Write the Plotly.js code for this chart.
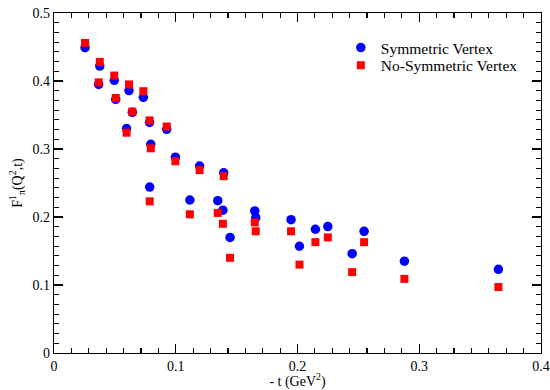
<!DOCTYPE html>
<html>
<head>
<meta charset="utf-8">
<script src="https://cdn.plot.ly/plotly-3.0.1.min.js"></script>
<style>html,body{margin:0;padding:0;background:#fff}#chart{width:550px;height:390px}</style>
</head>
<body>
<div id="chart"></div>
<script>
// -t (GeV^2)
var tValues = [0.0255, 0.0367, 0.0376, 0.0495, 0.0507, 0.0596, 0.0616, 0.0643, 0.0734, 0.0785,
               0.0786, 0.0795, 0.0926, 0.0997, 0.1116, 0.1196, 0.1345, 0.1387, 0.1394, 0.1446,
               0.1649, 0.1657, 0.1947, 0.2016, 0.2147, 0.2249, 0.2449, 0.2547, 0.2878, 0.365];
var symmetricVertex = [0.449, 0.395, 0.422, 0.401, 0.373, 0.330, 0.386, 0.354, 0.376, 0.339,
                       0.244, 0.307, 0.329, 0.288, 0.225, 0.275, 0.224, 0.210, 0.265, 0.170,
                       0.209, 0.199, 0.196, 0.157, 0.182, 0.186, 0.146, 0.179, 0.135, 0.123];
var noSymmetricVertex = [0.456, 0.398, 0.428, 0.408, 0.375, 0.324, 0.395, 0.355, 0.385, 0.342,
                         0.223, 0.301, 0.333, 0.282, 0.204, 0.269, 0.206, 0.190, 0.260, 0.140,
                         0.192, 0.179, 0.179, 0.130, 0.163, 0.170, 0.119, 0.163, 0.109, 0.097];
var seriesNames = ['Symmetric Vertex', 'No-Symmetric Vertex'];
var xTickVals = [0, 0.1, 0.2, 0.3, 0.4];
var xTickText = ['0', '0.1', '0.2', '0.3', '0.4'];
var yTickVals = [0, 0.1, 0.2, 0.3, 0.4, 0.5];
var yTickText = ['0', '0.1', '0.2', '0.3', '0.4', '0.5'];

var serif = 'Liberation Serif, Times New Roman, serif';

var traces = [
  {x: tValues, y: symmetricVertex, name: seriesNames[0], type: 'scatter', mode: 'markers',
   legend: 'legend',
   marker: {symbol: 'circle', size: 9.5, color: '#0000ff'}},
  {x: tValues, y: noSymmetricVertex, name: seriesNames[1], type: 'scatter', mode: 'markers',
   legend: 'legend2',
   marker: {symbol: 'square', size: 8, color: '#ff0000'}}
];

function axisBase() {
  return {
    showgrid: false, zeroline: false, showline: true, linecolor: '#000', linewidth: 1.3,
    mirror: 'allticks', ticks: 'inside', ticklen: 9, tickwidth: 1.2, tickcolor: '#000',
    tickfont: {family: serif, size: 14, color: '#000'}, tickmode: 'array'
  };
}
var xa = axisBase();
xa.range = [0, 0.4];
xa.tickvals = xTickVals; xa.ticktext = xTickText;
xa.minor = {dtick: 0.1/7, tick0: 0, ticks: 'inside', ticklen: 5, tickwidth: 1.2, tickcolor: '#000', showgrid: false};
xa.title = {text: '- t (GeV<sup>2</sup>)', font: {family: serif, size: 14, color: '#000'}, standoff: 4};

var ya = axisBase();
ya.range = [0, 0.5];
ya.tickvals = yTickVals; ya.ticktext = yTickText;
ya.minor = {dtick: 0.1/7, tick0: 0, ticks: 'inside', ticklen: 5, tickwidth: 1.2, tickcolor: '#000', showgrid: false};
ya.title = {text: 'F<sup>1</sup><sub>π</sub>(Q<sup>2</sup>,t)', font: {family: serif, size: 14, color: '#000'}, standoff: 6};

var legendFont = {family: serif, size: 15.5, color: '#000'};
var layout = {
  width: 550, height: 390,
  margin: {l: 54, r: 9, t: 13, b: 37, pad: 0},
  paper_bgcolor: '#fff', plot_bgcolor: '#fff',
  showlegend: true,
  legend: {x: 0.589, y: 0.947, xanchor: 'left', yanchor: 'top', bgcolor: 'rgba(0,0,0,0)',
           borderwidth: 0, font: legendFont},
  legend2: {x: 0.589, y: 0.895, xanchor: 'left', yanchor: 'top', bgcolor: 'rgba(0,0,0,0)',
           borderwidth: 0, font: legendFont},
  xaxis: xa, yaxis: ya
};

Plotly.newPlot('chart', traces, layout, {displayModeBar: false, staticPlot: true});
</script>
</body>
</html>
